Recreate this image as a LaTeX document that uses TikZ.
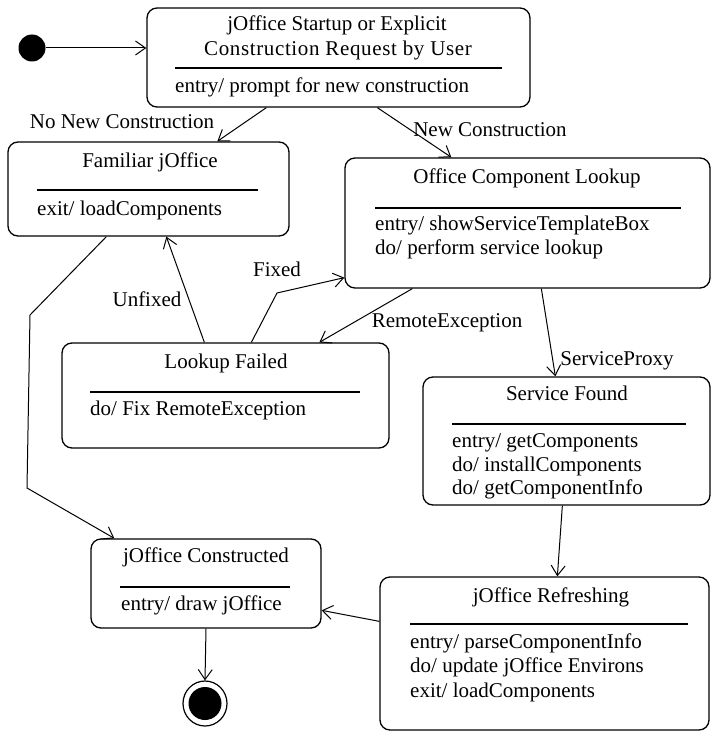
\documentclass[tikz,border=0pt]{standalone}
\usepackage{fontspec}
\setmainfont{Liberation Serif}
\usetikzlibrary{arrows.meta,shapes.geometric}
\begin{document}
\begin{tikzpicture}[x=1pt,y=-1pt,
  statebox/.style={draw, line width=1.3pt, rounded corners=10pt, inner sep=0pt},
  txt/.style={font=\fontsize{21}{23.5}\selectfont, inner sep=0pt},
  body/.style={txt, anchor=west, align=left},
  sep/.style={line width=1.5pt},
  trans/.style={line width=1pt, -{Straight Barb[length=10pt,width=14pt]}},
]
\useasboundingbox (0,0) rectangle (711,733);

% states
\node[statebox, minimum width=383pt, minimum height=99pt] (startup) at (338.5,57.5) {};
\node[txt] (startupT1) at (337,25) {jOffice Startup or Explicit};
\node[txt] (startupT2) at (338,50) {\addfontfeature{LetterSpace=3}Construction Request by User};
\draw[sep] (175,68) -- (502,68);
\node[body] (startupB) at (175,87) {entry/ prompt for new construction};

\node[statebox, minimum width=281pt, minimum height=94pt] (familiar) at (148.5,189) {};
\node[txt] (familiarT) at (150,162) {Familiar jOffice};
\draw[sep] (37,190) -- (258,190);
\node[body] (familiarB) at (37,210) {exit/ loadComponents};

\node[statebox, minimum width=365pt, minimum height=130pt] (lookup) at (527.5,223) {};
\node[txt] (lookupT) at (527,178) {Office Component Lookup};
\draw[sep] (375,208) -- (681,208);
\node[body] (lookupB) at (375,237.5) {entry/ showServiceTemplateBox\\do/ perform service lookup};

\node[statebox, minimum width=327pt, minimum height=105pt] (failed) at (225.5,395.5) {};
\node[txt] (failedT) at (226,363) {Lookup Failed};
\draw[sep] (90,392) -- (360,392);
\node[body] (failedB) at (90,410) {do/ Fix RemoteException};

\node[statebox, minimum width=287pt, minimum height=128pt] (found) at (566.5,441) {};
\node[txt] (foundT) at (567,393) {Service Found};
\draw[sep] (452,424) -- (686,424);
\node[body] (foundB) at (452,466.5) {entry/ getComponents\\do/ installComponents\\do/ getComponentInfo};

\node[statebox, minimum width=230pt, minimum height=89pt] (constructed) at (206,583.5) {};
\node[txt] (constructedT) at (206,557) {jOffice Constructed};
\draw[sep] (120,587) -- (290,587);
\node[body] (constructedB) at (121,605) {entry/ draw jOffice};

\node[statebox, minimum width=329pt, minimum height=153pt] (refreshing) at (544.5,653.5) {};
\node[txt] (refreshingT) at (551,597) {jOffice Refreshing};
\draw[sep] (410,624) -- (688,624);
\node[body, font=\fontsize{21}{24.5}\selectfont] (refreshingB) at (410,667.5) {entry/ parseComponentInfo\\do/ update jOffice Environs\\exit/ loadComponents};

% pseudo states
\node[circle, fill, minimum size=27pt, inner sep=0pt] (init) at (32,48) {};
\node[ellipse, draw, line width=1.2pt, minimum width=44pt, minimum height=45pt, inner sep=0pt] (final) at (205,703.5) {};
\node[circle, fill, minimum size=33pt, inner sep=0pt] (finalin) at (205,703.5) {};

% transitions
\draw[trans] (init) -- (init -| startup.west);
\draw[trans] ([xshift=120pt]startup.south west) -- ([xshift=210pt]familiar.north west);
\draw[trans] ([xshift=231pt]startup.south west) -- ([xshift=107pt]lookup.north west);
\coordinate (bend1) at (30,315);
\coordinate (bend2) at (27,488);
\draw[trans] ([xshift=99pt]familiar.south west) -- (bend1) -- (bend2) -- ([xshift=24pt]constructed.north west);
\draw[trans] ([xshift=143pt]failed.north west) -- ([xshift=159pt]familiar.south west);
\coordinate (bend3) at (277,293);
\draw[trans] ([xshift=190pt]failed.north west) -- (bend3) -- ([yshift=11pt]lookup.south west);
\draw[trans] ([xshift=68pt]lookup.south west) -- ([xshift=258pt]failed.north west);
\draw[trans] ([xshift=197pt]lookup.south west) -- ([xshift=133pt]found.north west);
\draw[trans] ([xshift=140pt]found.south west) -- ([xshift=178pt]refreshing.north west);
\draw[trans] ([yshift=-45pt]refreshing.north west) -- ([yshift=-72pt]constructed.north east);
\draw[trans] (constructed.south) -- (final.north);

% labels
\node[txt] (lblNoNew) at (122,122) {No New Construction};
\node[txt] (lblNew) at (490,130) {New Construction};
\node[txt] (lblFixed) at (277,269) {Fixed};
\node[txt] (lblUnfixed) at (147,299) {Unfixed};
\node[txt] (lblRemote) at (447,323) {RemoteException};
\node[txt] (lblProxy) at (617,361) {ServiceProxy};
\end{tikzpicture}
\end{document}
